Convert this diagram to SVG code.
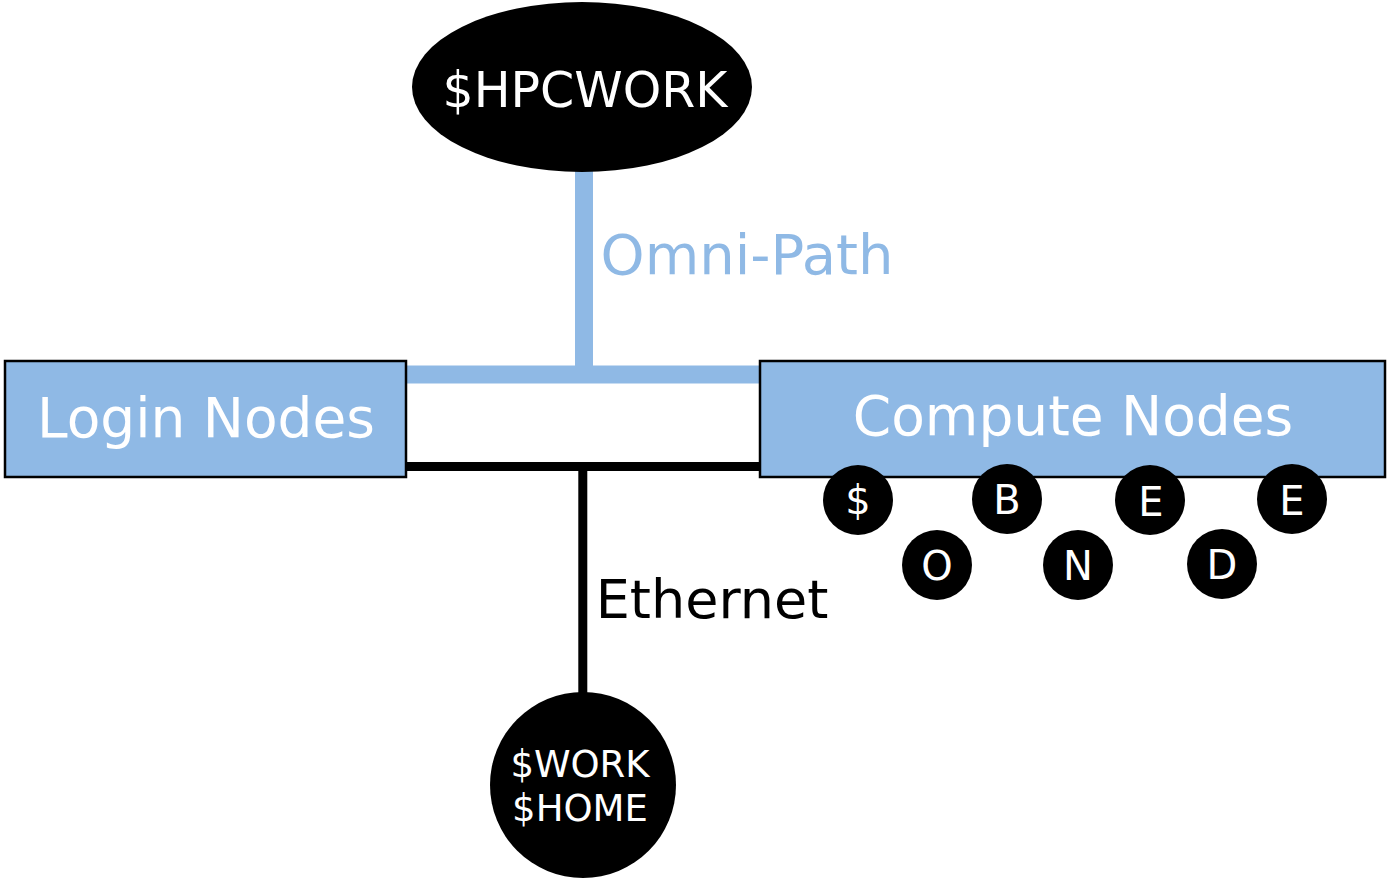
<svg xmlns="http://www.w3.org/2000/svg" width="1387" height="880" viewBox="0 0 1387 880">
  <style>
    text { font-family: "DejaVu Sans", Verdana, sans-serif; text-anchor: middle; }
    .store { fill: #000000; }
    .box { fill: #8FB9E5; stroke: #000000; stroke-width: 2.5; }
    .white { fill: #ffffff; }
    .omni { stroke: #8FB9E5; stroke-width: 18; fill: none; }
    .eth { stroke: #000000; stroke-width: 9; fill: none; }
    .tag { font-size: 40px; }
  </style>

  <!-- network links -->
  <g id="connectors">
    <line class="omni" x1="584" y1="165" x2="584" y2="383"/>
    <line class="omni" x1="406" y1="374.5" x2="760" y2="374.5"/>
    <line class="eth" x1="406" y1="466.5" x2="760" y2="466.5"/>
    <line class="eth" x1="582.8" y1="466" x2="582.8" y2="700"/>
    <text x="747" y="274" font-size="56" fill="#8FB9E5">Omni-Path</text>
    <text x="712" y="618" font-size="54" fill="#000000">Ethernet</text>
  </g>

  <g id="hpcwork">
    <ellipse class="store" cx="582" cy="87" rx="170" ry="85"/>
    <text class="white" x="585" y="107" font-size="49">$HPCWORK</text>
  </g>

  <g id="login-nodes">
    <rect class="box" x="5" y="361" width="401" height="116"/>
    <text class="white" x="206" y="437" font-size="55">Login Nodes</text>
  </g>

  <g id="compute-nodes">
    <rect class="box" x="760" y="361" width="625" height="116"/>
    <text class="white" x="1073" y="435" font-size="55">Compute Nodes</text>
  </g>

  <g id="bonded">
    <circle class="store" cx="858" cy="500" r="35"/>
    <text class="white tag" x="858" y="514">$</text>
    <circle class="store" cx="937" cy="565" r="35"/>
    <text class="white tag" x="937" y="580">O</text>
    <circle class="store" cx="1007" cy="499" r="35"/>
    <text class="white tag" x="1007" y="514">B</text>
    <circle class="store" cx="1078" cy="565" r="35"/>
    <text class="white tag" x="1078" y="580">N</text>
    <circle class="store" cx="1150" cy="500" r="35"/>
    <text class="white tag" x="1151" y="516">E</text>
    <circle class="store" cx="1222" cy="564" r="35"/>
    <text class="white tag" x="1222" y="579">D</text>
    <circle class="store" cx="1292" cy="499" r="35"/>
    <text class="white tag" x="1292" y="515">E</text>
  </g>

  <g id="work-home">
    <circle class="store" cx="583" cy="785" r="93"/>
    <text class="white" x="580" y="777" font-size="37">$WORK</text>
    <text class="white" x="580" y="821" font-size="37">$HOME</text>
  </g>
</svg>
